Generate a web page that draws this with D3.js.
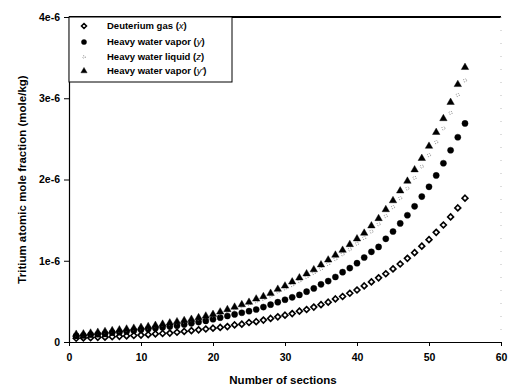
<!DOCTYPE html>
<html>
<head>
<meta charset="utf-8">
<script src="https://cdn.jsdelivr.net/npm/d3@7"></script>
<style>
  body { margin: 0; background: #fff; }
  text { font-family: "Liberation Sans", Arial, sans-serif; font-weight: bold; }
  .axis path, .axis line { stroke: #000; }
</style>
</head>
<body>
<script>
// number of sections 1..55
const sections = d3.range(1, 56);

// readings, in units of 1e-6 (index 0 = section 1)
const deuteriumGas = [0.046, 0.05, 0.053, 0.057, 0.06, 0.065, 0.07, 0.075, 0.08, 0.085,
  0.09, 0.10, 0.105, 0.11, 0.12, 0.13, 0.14, 0.15, 0.16, 0.17,
  0.18, 0.19, 0.21, 0.22, 0.24, 0.25, 0.27, 0.29, 0.31, 0.33,
  0.35, 0.38, 0.40, 0.43, 0.46, 0.49, 0.53, 0.56, 0.60, 0.64,
  0.69, 0.74, 0.79, 0.84, 0.90, 0.96, 1.03, 1.10, 1.18, 1.26,
  1.35, 1.44, 1.54, 1.65, 1.77];

const vaporY = [0.075, 0.08, 0.09, 0.095, 0.10, 0.115, 0.12, 0.13, 0.14, 0.15,
  0.16, 0.17, 0.18, 0.19, 0.20, 0.215, 0.23, 0.245, 0.26, 0.28,
  0.30, 0.32, 0.34, 0.36, 0.38, 0.40, 0.43, 0.46, 0.49, 0.52,
  0.55, 0.58, 0.62, 0.66, 0.71, 0.75, 0.80, 0.86, 0.91, 0.97,
  1.04, 1.11, 1.17, 1.27, 1.36, 1.46, 1.56, 1.67, 1.79, 1.91,
  2.05, 2.20, 2.36, 2.52, 2.69];

const liquidZ = [0.09, 0.095, 0.105, 0.115, 0.125, 0.135, 0.14, 0.15, 0.16, 0.17,
  0.18, 0.195, 0.21, 0.225, 0.24, 0.25, 0.27, 0.285, 0.305, 0.325,
  0.35, 0.38, 0.41, 0.44, 0.47, 0.50, 0.53, 0.57, 0.62, 0.66,
  0.70, 0.75, 0.80, 0.85, 0.90, 0.96, 1.02, 1.08, 1.14, 1.21,
  1.28, 1.36, 1.45, 1.55, 1.66, 1.77, 1.89, 2.02, 2.16, 2.30,
  2.46, 2.63, 2.82, 3.04, 3.22];

const vaporY2 = [0.095, 0.10, 0.11, 0.12, 0.13, 0.14, 0.15, 0.16, 0.17, 0.18,
  0.19, 0.205, 0.22, 0.235, 0.25, 0.265, 0.28, 0.30, 0.32, 0.34,
  0.37, 0.40, 0.43, 0.46, 0.49, 0.53, 0.56, 0.60, 0.65, 0.69,
  0.74, 0.79, 0.84, 0.89, 0.95, 1.01, 1.07, 1.13, 1.20, 1.27,
  1.34, 1.43, 1.52, 1.63, 1.74, 1.86, 1.98, 2.12, 2.26, 2.41,
  2.58, 2.75, 2.95, 3.17, 3.38];

const xTicks = [0, 10, 20, 30, 40, 50, 60];
const yTicks = [0, 1e-6, 2e-6, 3e-6, 4e-6];
const yTickLabels = ["0", "1e-6", "2e-6", "3e-6", "4e-6"];

const legendLabels = [
  ["Deuterium gas ", "x"],
  ["Heavy water vapor ", "y"],
  ["Heavy water liquid ", "z"],
  ["Heavy water vapor ", "y'"]
];

const w = 509;
const h = 389;
const margin = ({top: 17, right: 8, bottom: 47, left: 69});

const svg = d3.select("body")
  .append("svg")
  .attr("width", w)
  .attr("height", h);

let x = d3.scaleLinear()
  .domain([0, 60])
  .range([margin.left, w - margin.right]);

let y = d3.scaleLinear()
  .domain([0, 4e-6])
  .range([h - margin.bottom, margin.top]);

// series definitions: symbol type + styling
const series = [
  {name: "x", values: deuteriumGas, type: d3.symbolDiamond2 || d3.symbolDiamond, size: 22, fill: "#fff", stroke: "#000", sw: 1.6},
  {name: "y", values: vaporY, type: d3.symbolCircle, size: 30, fill: "#000", stroke: "#000", sw: 0.4},
  {name: "z", values: liquidZ, type: d3.symbolCircle, size: 8, fill: "none", stroke: "#777", sw: 0.9, dash: "1,1.4"},
  {name: "y2", values: vaporY2, type: d3.symbolTriangle, size: 24, fill: "#000", stroke: "#000", sw: 0.4}
];

// frame: top line thick, right side faint dotted
svg.append("line")
  .attr("x1", x(0)).attr("x2", x(60))
  .attr("y1", y(4e-6)).attr("y2", y(4e-6))
  .attr("stroke", "#000")
  .attr("stroke-width", 2);

svg.append("line")
  .attr("x1", x(60)).attr("x2", x(60))
  .attr("y1", y(4e-6)).attr("y2", y(0))
  .attr("stroke", "#bbb")
  .attr("stroke-width", 1)
  .attr("stroke-dasharray", "1,12");

// points
series.forEach(s => {
  svg.append("g")
    .selectAll("path")
    .data(s.values)
    .enter().append("path")
    .attr("transform", (d, i) => `translate(${x(sections[i])},${y(d * 1e-6)})`)
    .attr("d", d3.symbol().type(s.type).size(s.size))
    .attr("fill", s.fill)
    .attr("stroke", s.stroke)
    .attr("stroke-width", s.sw)
    .attr("stroke-dasharray", s.dash || null);
});

let xAxis = d3.axisBottom()
  .scale(x)
  .tickValues(xTicks)
  .tickSize(4)
  .tickSizeOuter(0);

let yAxis = d3.axisLeft()
  .scale(y)
  .tickValues(yTicks)
  .tickFormat((d, i) => yTickLabels[i])
  .tickSize(5)
  .tickSizeOuter(0);

svg.append("g")
  .attr("class", "axis")
  .attr("transform", `translate(0,${h - margin.bottom})`)
  .call(xAxis)
  .call(g => g.selectAll("text").attr("font-size", 10.5).attr("fill", "#000").attr("dy", "1.1em"))
  .call(g => g.select(".domain").attr("stroke", "#333"));

svg.append("g")
  .attr("class", "axis")
  .attr("transform", `translate(${margin.left},0)`)
  .call(yAxis)
  .call(g => g.selectAll("text").attr("font-size", 10.5).attr("fill", "#000").attr("x", -9))
  .call(g => g.select(".domain").attr("stroke-width", 1.2));

// legend
const legend = svg.append("g")
  .attr("transform", `translate(${x(0)},${y(4e-6)})`);

legend.append("rect")
  .attr("width", 163)
  .attr("height", 65)
  .attr("fill", "#fff")
  .attr("stroke", "#000")
  .attr("stroke-width", 1);

const rowY = [9, 25, 40, 54];

series.forEach((s, i) => {
  legend.append("path")
    .attr("transform", `translate(15,${rowY[i]})`)
    .attr("d", d3.symbol().type(s.type).size(s.size * 0.7))
    .attr("fill", s.fill)
    .attr("stroke", s.stroke)
    .attr("stroke-width", s.sw)
    .attr("stroke-dasharray", s.dash || null);

  let t = legend.append("text")
    .attr("x", 38)
    .attr("y", rowY[i])
    .attr("dy", "0.35em")
    .attr("fill", "#000")
    .attr("font-size", 9.5);
  t.append("tspan").text(legendLabels[i][0] + "(");
  t.append("tspan").attr("font-style", "italic").attr("font-weight", "normal").text(legendLabels[i][1]);
  t.append("tspan").text(")");
});

// axis titles
svg.append("text")
  .attr("x", (x(0) + x(60)) / 2 - 2)
  .attr("y", h - 5)
  .attr("text-anchor", "middle")
  .attr("fill", "#000")
  .attr("font-size", 11.5)
  .text("Number of sections");

svg.append("text")
  .attr("transform", `translate(26,${(y(0) + y(4e-6)) / 2}) rotate(-90)`)
  .attr("text-anchor", "middle")
  .attr("fill", "#000")
  .attr("font-size", 11.5)
  .text("Tritium atomic mole fraction (mole/kg)");
</script>
</body>
</html>
